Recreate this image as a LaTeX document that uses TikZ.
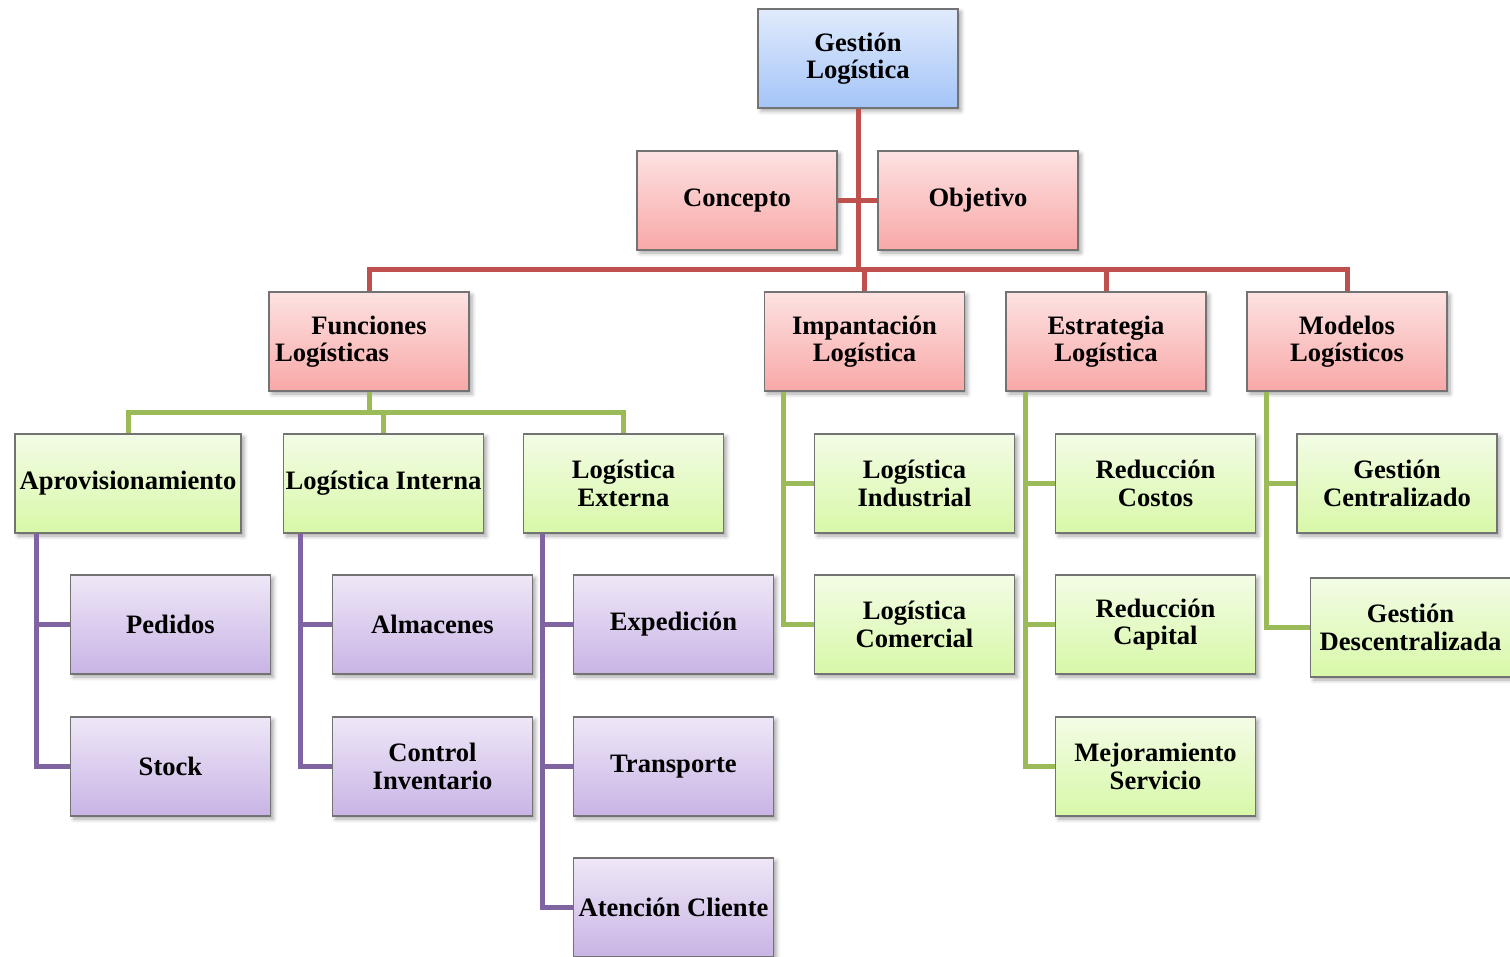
\documentclass[tikz,border=0pt]{standalone}
\usepackage{fontspec}
\setmainfont{Liberation Serif}
\usepackage{xcolor}
\usepackage{tikz}
\usetikzlibrary{shadows.blur}

\definecolor{linkred}{HTML}{C0504D}
\definecolor{linkgreen}{HTML}{9BBB59}
\definecolor{linkpurple}{HTML}{8064A2}

\tikzset{
    box/.style={draw=black!55,line width=0.6pt,minimum width=100pt,minimum height=49.5pt,
        inner sep=1pt,align=center,font=\bfseries\fontsize{13.3}{13.7}\selectfont,
        blur shadow={shadow xshift=1.5pt,shadow yshift=-1.5pt,shadow blur radius=2pt,shadow opacity=35}},
    bluebox/.style={box,top color={rgb,255:red,224;green,235;blue,252},bottom color={rgb,255:red,164;green,196;blue,248}},
    redbox/.style={box,top color={rgb,255:red,253;green,226;blue,226},bottom color={rgb,255:red,248;green,168;blue,167}},
    greenbox/.style={box,top color={rgb,255:red,243;green,252;blue,230},bottom color={rgb,255:red,216;green,248;blue,168}},
    purplebox/.style={box,top color={rgb,255:red,239;green,231;blue,247},bottom color={rgb,255:red,200;green,180;blue,229}},
    redlink/.style={draw=linkred,line width=2.5pt},
    greenlink/.style={draw=linkgreen,line width=2.5pt},
    purplelink/.style={draw=linkpurple,line width=2.5pt}
}

\begin{document}
\begin{tikzpicture}[x=0.5pt,y=-0.5pt]
        \useasboundingbox (0,0) rectangle (1510,957);

        %%% TOP %%%
        \node[bluebox] (gl) at (858,58.5) {Gestión\\Logística};
        \node[redbox] (con) at (737,200.5) {Concepto};
        \node[redbox] (obj) at (978,200.5) {Objetivo};

        %%% SECOND LEVEL %%%
        \node[redbox] (fl) at (369,341.5) {Funciones\\Logísticas\hspace*{37pt}};
        \node[redbox] (il) at (864.5,341.5) {Impantación\\Logística};
        \node[redbox] (el) at (1106,341.5) {Estrategia\\Logística};
        \node[redbox] (ml) at (1347,341.5) {Modelos\\Logísticos};

        %%% FUNCIONES %%%
        \node[greenbox,minimum width=113pt] (apr) at (128,483.5) {Aprovisionamiento};
        \node[greenbox] (lin) at (383.5,483.5) {Logística Interna};
        \node[greenbox] (lex) at (623.5,483.5) {Logística\\Externa};

        \node[purplebox] (ped) at (170.5,624.5) {Pedidos};
        \node[purplebox] (sto) at (170.5,766.5) {Stock};
        \node[purplebox] (alm) at (432.5,624.5) {Almacenes};
        \node[purplebox] (cin) at (432.5,766.5) {Control\\Inventario};
        \node[purplebox] (exp) at (673.5,624.5) {Expedición};
        \node[purplebox] (tra) at (673.5,766.5) {Transporte};
        \node[purplebox] (ate) at (673.5,907.5) {Atención Cliente};

        %%% IMPANTACION, ESTRATEGIA, MODELOS %%%
        \node[greenbox] (lind) at (914.5,483.5) {Logística\\Industrial};
        \node[greenbox] (lcom) at (914.5,624.5) {Logística\\Comercial};
        \node[greenbox] (rco) at (1155.5,483.5) {Reducción\\Costos};
        \node[greenbox] (rca) at (1155.5,624.5) {Reducción\\Capital};
        \node[greenbox] (mse) at (1155.5,766.5) {Mejoramiento\\Servicio};
        \node[greenbox] (gce) at (1397,483.5) {Gestión\\Centralizado};
        \node[greenbox] (gde) at (1410.5,627.5) {Gestión\\Descentralizada};

        %%% RED LINKS %%%
        \coordinate (rbus) at (858,270);
        \draw[redlink] (gl.south) -- (rbus);
        \draw[redlink] (con.east) -- (con.east -| gl.south);
        \draw[redlink] (obj.west) -- (obj.west -| gl.south);
        \draw[redlink] (fl.north) |- (rbus) -| (ml.north);
        \draw[redlink] (il.north) -- (il.north |- rbus);
        \draw[redlink] (el.north) -- (el.north |- rbus);

        %%% GREEN LINKS %%%
        \coordinate (gbus) at (369,412);
        \draw[greenlink] (fl.south) -- (gbus);
        \draw[greenlink] (apr.north) |- (gbus) -| (lex.north);
        \draw[greenlink] (lin.north) -- (lin.north |- gbus);
        \draw[greenlink] ([xshift=10pt]il.south west) |- (lcom.west);
        \draw[greenlink] ([xshift=10pt]il.south west) |- (lind.west);
        \draw[greenlink] ([xshift=10pt]el.south west) |- (mse.west);
        \draw[greenlink] ([xshift=10pt]el.south west) |- (rco.west);
        \draw[greenlink] ([xshift=10pt]el.south west) |- (rca.west);
        \draw[greenlink] ([xshift=10pt]ml.south west) |- (gde.west);
        \draw[greenlink] ([xshift=10pt]ml.south west) |- (gce.west);

        %%% PURPLE LINKS %%%
        \draw[purplelink] ([xshift=11pt]apr.south west) |- (sto.west);
        \draw[purplelink] ([xshift=11pt]apr.south west) |- (ped.west);
        \draw[purplelink] ([xshift=9pt]lin.south west) |- (cin.west);
        \draw[purplelink] ([xshift=9pt]lin.south west) |- (alm.west);
        \draw[purplelink] ([xshift=10pt]lex.south west) |- (ate.west);
        \draw[purplelink] ([xshift=10pt]lex.south west) |- (tra.west);
        \draw[purplelink] ([xshift=10pt]lex.south west) |- (exp.west);
\end{tikzpicture}
\end{document}
